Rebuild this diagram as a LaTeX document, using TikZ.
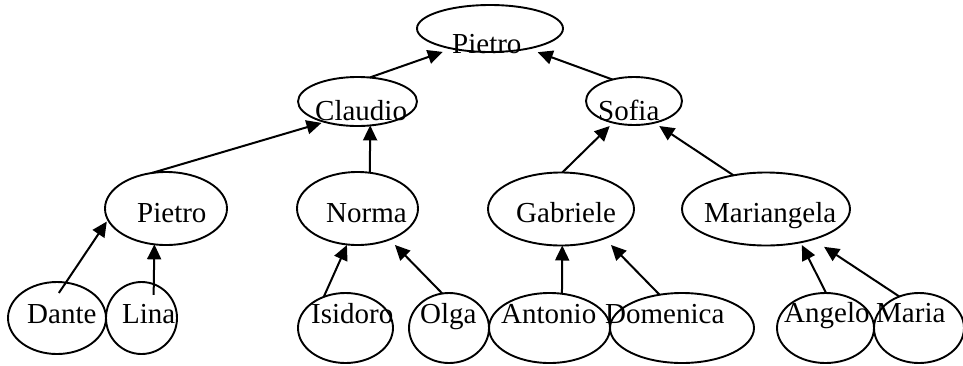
\documentclass[tikz,border=0pt]{standalone}
\usepackage{fontspec}
\setmainfont{Liberation Serif}
\usetikzlibrary{arrows.meta,shapes.geometric}
\tikzset{
	person/.style={draw, ellipse, line width=1.9pt, inner sep=0pt, outer sep=0pt},
	who/.style={anchor=base west, inner sep=0pt, font=\fontsize{29}{30}\selectfont},
	kid/.style={line width=2pt, -{Triangle[length=15pt,width=14pt]}}
}
\begin{document}
\begin{tikzpicture}[x=1pt,y=-1pt]
	\useasboundingbox (0,0) rectangle (963,365);
	% ellipses
	\node [person, minimum width=146pt, minimum height=47pt] (pietro) at (490,28.5) {};
	\node [person, minimum width=119pt, minimum height=49pt] (claudio) at (357.5,101.5) {};
	\node [person, minimum width=96pt, minimum height=48pt] (sofia) at (634,101) {};
	\node [person, minimum width=122pt, minimum height=73pt] (pietroB) at (166,208.5) {};
	\node [person, minimum width=121pt, minimum height=73pt] (norma) at (357.5,208.5) {};
	\node [person, minimum width=146pt, minimum height=73pt] (gabriele) at (561,209) {};
	\node [person, minimum width=168pt, minimum height=73pt] (mariangela) at (766,209) {};
	\node [person, minimum width=98pt, minimum height=72pt] (dante) at (57,318) {};
	\node [person, minimum width=71pt, minimum height=72pt] (lina) at (141.5,318) {};
	\node [person, minimum width=95pt, minimum height=70pt] (isidoro) at (345.5,328) {};
	\node [person, minimum width=80pt, minimum height=70pt] (olga) at (449,328) {};
	\node [person, minimum width=121pt, minimum height=70pt] (antonio) at (549.5,328) {};
	\node [person, minimum width=144pt, minimum height=70pt] (domenica) at (682,328) {};
	\node [person, minimum width=97pt, minimum height=70pt] (angelo) at (825.5,328) {};
	\node [person, minimum width=90pt, minimum height=70pt] (maria) at (919,328) {};
	% names
	\node [who] (txtpietro) at (452,53) {Pietro};
	\node [who] (txtclaudio) at (315,120) {Claudio};
	\node [who] (txtsofia) at (598,120) {Sofia};
	\node [who] (txtpietroB) at (137,222) {Pietro};
	\node [who] (txtnorma) at (326,222) {Norma};
	\node [who] (txtgabriele) at (516,222) {Gabriele};
	\node [who] (txtmariangela) at (704,222) {Mariangela};
	\node [who] (txtdante) at (27,323) {Dante};
	\node [who] (txtlina) at (122,323) {Lina};
	\node [who] (txtisidoro) at (311,323) {Isidoro};
	\node [who] (txtolga) at (420,323) {Olga};
	\node [who] (txtantonio) at (501,323) {Antonio};
	\node [who] (txtdomenica) at (605,323) {Domenica};
	\node [who] (txtangelo) at (784,322) {Angelo};
	\node [who] (txtmaria) at (876,322) {Maria};
	% child -> parent
	\foreach \a/\b/\s/\t in {claudio.63/pietro.208/0/10, sofia.135/pietro.332/0/10.5,
			pietroB.112/claudio.212/0/3.4, norma.71/claudio.298/0/0,
			gabriele.88/sofia.226/0/4.8, mariangela.134/sofia.313/0/5.9,
			dante.76/pietroB.191/-12.5/2.1, lina.70/pietroB.252/-10.7/0,
			isidoro.125/norma.254/0/0.6, olga.101/norma.316/0/7.7,
			antonio.70/gabriele.272/0/0, domenica.124/gabriele.326/0/9.3,
			angelo.89/mariangela.316/0/3.1, maria.122/mariangela.327/0/13.6}{%
		\draw [kid, shorten <=\s pt, shorten >=\t pt] (\a) -- (\b);
		}
\end{tikzpicture}
\end{document}
